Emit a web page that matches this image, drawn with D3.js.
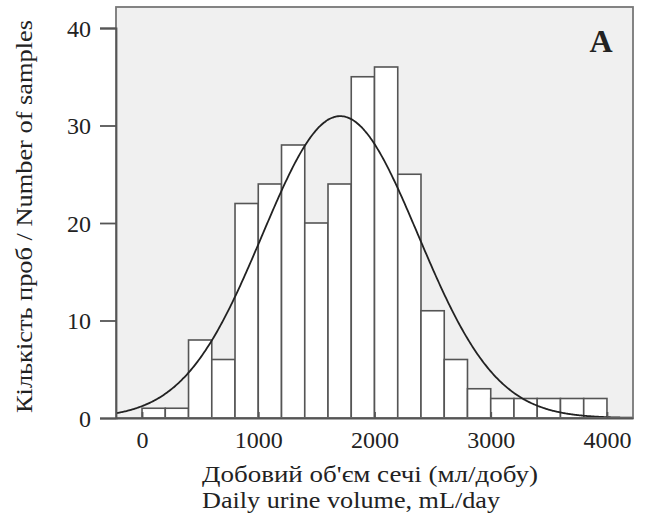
<!DOCTYPE html>
<html><head><meta charset="utf-8">
<script src="https://cdn.jsdelivr.net/npm/d3@7"></script>
<style>body{margin:0;background:#fff;} svg{display:block;}</style>
</head><body>
<script>
const binStarts = [0,200,400,600,800,1000,1200,1400,1600,1800,2000,2200,2400,2600,2800,3000,3200,3400,3600,3800];
const binWidth = 200;
const counts = [1,1,8,6,22,24,28,20,24,35,36,25,11,6,3,2,2,2,2,2];
const xTicks = [0,1000,2000,3000,4000];
const yTicks = [0,10,20,30,40];
const fitMean = 1705;
const fitSD = 670;
const xLabel1 = "Добовий об'єм сечі (мл/добу)";
const xLabel2 = "Daily urine volume, mL/day";
const yLabel = "Кількість проб / Number of samples";
const panel = "A";

const W = 651, H = 516;
const L = 116, R = 633, T = 7, B = 418;
const svg = d3.select("body").append("svg").attr("width", W).attr("height", H);
const x = d3.scaleLinear().domain([-224, 4224]).range([L, R]);
const y = d3.scaleLinear().domain([0, 40]).range([B, 28]);
const font = "'Liberation Serif', 'Times New Roman', serif";

svg.append("rect").attr("x", L).attr("y", T).attr("width", R - L).attr("height", B - T)
  .attr("fill", "#f0f0f0");

svg.append("g").selectAll("rect").data(counts).join("rect")
  .attr("x", (d, i) => x(binStarts[i]))
  .attr("y", d => y(d))
  .attr("width", (d, i) => x(binStarts[i] + binWidth) - x(binStarts[i]))
  .attr("height", d => y(0) - y(d))
  .attr("fill", "#fff").attr("stroke", "#555").attr("stroke-width", 1.6);

// fitted normal curve
const N = d3.sum(counts);
const xs = d3.range(-224, 4224, 10).concat([4224]);
const pdf = v => N * binWidth / (fitSD * Math.sqrt(2 * Math.PI)) * Math.exp(-0.5 * ((v - fitMean) / fitSD) ** 2);
svg.append("path").datum(xs)
  .attr("d", d3.line().x(v => x(v)).y(v => y(pdf(v))).curve(d3.curveBasis))
  .attr("fill", "none").attr("stroke", "#222").attr("stroke-width", 1.8);

// frame
svg.append("rect").attr("x", L).attr("y", T).attr("width", R - L).attr("height", B - T)
  .attr("fill", "none").attr("stroke", "#777").attr("stroke-width", 1.8);

// y axis
const yAxis = svg.append("g").attr("transform", `translate(${L},0)`)
  .call(d3.axisLeft(y).tickValues(yTicks).tickSize(16).tickPadding(9).tickFormat(d3.format("d")));
yAxis.select(".domain").attr("stroke", "#555").attr("stroke-width", 1.8);
yAxis.selectAll(".tick line").attr("stroke", "#555").attr("stroke-width", 1.8);
yAxis.selectAll("text").attr("font-family", font).attr("font-size", 24).attr("fill", "#222").attr("dy", "0.34em");

// x axis (inner ticks)
const xAxis = svg.append("g").attr("transform", `translate(0,${B})`)
  .call(d3.axisBottom(x).tickValues(xTicks).tickSizeInner(-6).tickSizeOuter(0).tickPadding(13).tickFormat(d3.format("d")));
xAxis.select(".domain").attr("stroke", "#555").attr("stroke-width", 1.8);
xAxis.selectAll(".tick line").attr("stroke", "#555").attr("stroke-width", 1.8);
xAxis.selectAll("text").attr("font-family", font).attr("font-size", 24).attr("fill", "#222");

svg.append("text").attr("x", 202).attr("y", 482)
  .attr("textLength", 336).attr("lengthAdjust", "spacingAndGlyphs")
  .attr("font-family", font).attr("font-size", 24).attr("fill", "#222").text(xLabel1);
svg.append("text").attr("x", 202).attr("y", 508)
  .attr("textLength", 298).attr("lengthAdjust", "spacingAndGlyphs")
  .attr("font-family", font).attr("font-size", 24).attr("fill", "#222").text(xLabel2);

svg.append("text").attr("transform", "translate(32,413) rotate(-90)")
  .attr("textLength", 393).attr("lengthAdjust", "spacingAndGlyphs")
  .attr("font-family", font).attr("font-size", 24).attr("fill", "#222").text(yLabel);

svg.append("text").attr("x", 601).attr("y", 52).attr("text-anchor", "middle")
  .attr("font-family", font).attr("font-size", 32).attr("font-weight", "bold").attr("fill", "#222").text(panel);
</script>
</body></html>
